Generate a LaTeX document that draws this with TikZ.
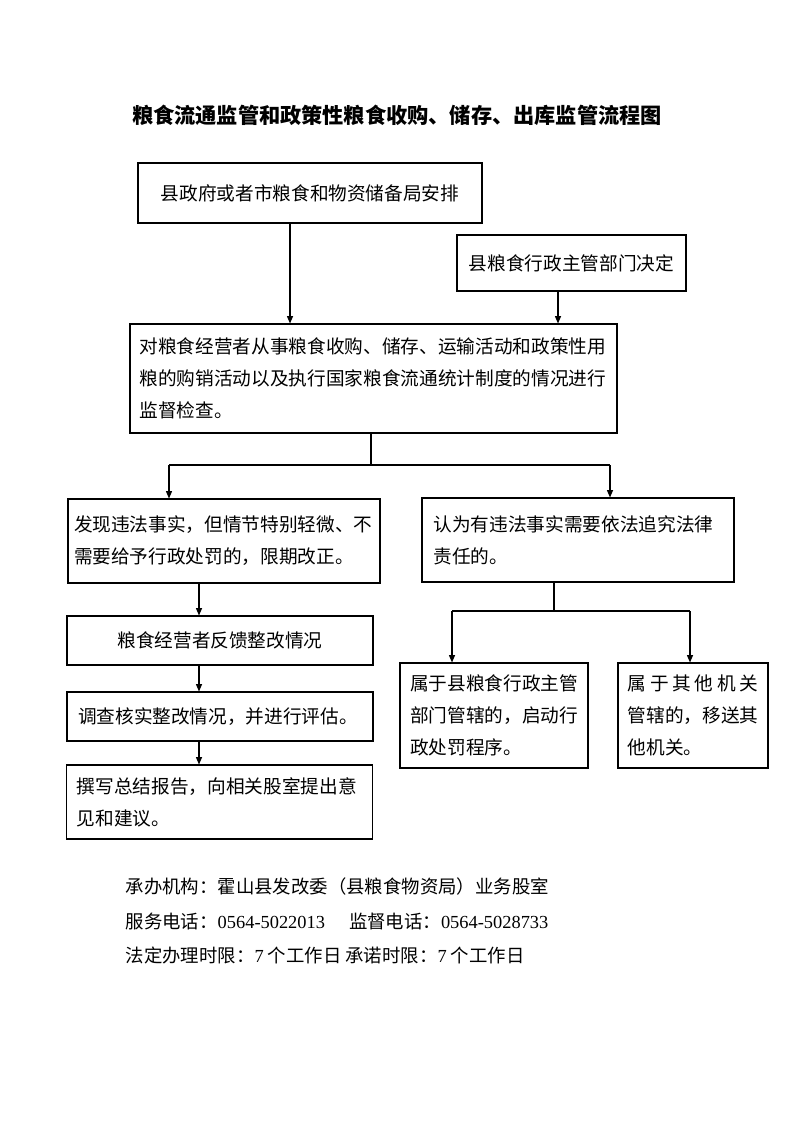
\documentclass[tikz,border=0pt]{standalone}
\usepackage{fontspec}
\setmainfont{Noto Sans CJK SC}
\newfontfamily\dig{Liberation Serif}
\usetikzlibrary{arrows.meta}
\begin{document}
\begin{tikzpicture}[x=0.75pt,y=-0.75pt,
  box/.style={draw,line width=0.8pt,inner sep=0pt,font=\fontsize{14}{24}\selectfont},
  lbox/.style={box,align=left},
  arr/.style={line width=0.8pt,-{Triangle[length=5.5pt,width=4.5pt]}},
  ln/.style={line width=0.8pt},
  foot/.style={anchor=west,font=\fontsize{13.8}{16}\selectfont}]
\useasboundingbox (0,0) rectangle (793,1122);
\node[font=\bfseries\fontsize{15.9}{18}\selectfont] (title) at (397,115) {粮食流通监管和政策性粮食收购、储存、出库监管流程图};
\node[box,minimum width=258pt,minimum height=45pt] (b1) at (310,193) {县政府或者市粮食和物资储备局安排};
\node[box,minimum width=171.75pt,minimum height=42pt] (b2) at (571.5,263) {县粮食行政主管部门决定};
\node[lbox,minimum width=365.25pt,minimum height=81.75pt,text width=351pt] (b3) at (373.5,378.5)
  {对粮食经营者从事粮食收购、储存、运输活动和政策性用\\粮的购销活动以及执行国家粮食流通统计制度的情况进行\\监督检查。};
\node[lbox,minimum width=234pt,minimum height=63pt,text width=225pt] (b4) at (224,541)
  {发现违法事实，但情节特别轻微、不\\需要给予行政处罚的，限期改正。};
\node[lbox,minimum width=234pt,minimum height=63pt,text width=217pt] (b5) at (578,540)
  {认为有违法事实需要依法追究法律\\责任的。};
\node[box,minimum width=229.5pt,minimum height=36.75pt] (b6) at (220,640.5) {粮食经营者反馈整改情况};
\node[lbox,minimum width=229.5pt,minimum height=36.75pt,text width=213pt] (b7) at (220,716.5)
  {调查核实整改情况，并进行评估。};
\node[lbox,minimum width=229.5pt,minimum height=55.5pt,text width=214pt] (b8) at (219.5,802)
  {撰写总结报告，向相关股室提出意\\见和建议。};
\node[lbox,minimum width=141pt,minimum height=78.75pt,text width=126pt] (b9) at (494,715.5)
  {属于县粮食行政主管\\部门管辖的，启动行\\政处罚程序。};
\node[lbox,minimum width=112.5pt,minimum height=78.75pt,text width=98pt] (b10) at (693,715.5)
  {\makebox[98pt][l]{属\hfill 于\hfill 其\hfill 他\hfill 机\hfill 关}\\管辖的，移送其\\他机关。};
% connectors
\coordinate (xa) at (290,0);
\coordinate (xb) at (558,0);
\draw[arr] (xa |- b1.south) -- (xa |- b3.north);
\draw[arr] (xb |- b2.south) -- (xb |- b3.north);
\coordinate (j1) at (371,465);
\coordinate (l1) at (169,465);
\coordinate (r1) at (610,465);
\draw[ln] (j1 |- b3.south) -- (j1);
\draw[ln] (l1) -- (r1);
\draw[arr] (l1) -- (l1 |- b4.north);
\draw[arr] (r1) -- (r1 |- b5.north);
\coordinate (xc) at (199,0);
\draw[arr] (xc |- b4.south) -- (xc |- b6.north);
\draw[arr] (xc |- b6.south) -- (xc |- b7.north);
\draw[arr] (xc |- b7.south) -- (xc |- b8.north);
\coordinate (j2) at (554,611);
\coordinate (l2) at (452,611);
\coordinate (r2) at (690,611);
\draw[ln] (j2 |- b5.south) -- (j2);
\draw[ln] (l2) -- (r2);
\draw[arr] (l2) -- (l2 |- b9.north);
\draw[arr] (r2) -- (r2 |- b10.north);
% footer
\node[foot] (f1) at (121,886) {承办机构：霍山县发改委（县粮食物资局）业务股室};
\node[foot] (f2) at (121,921) {服务电话：{\dig 0564-5022013}\hspace{18pt}监督电话：{\dig 0564-5028733}};
\node[foot] (f3) at (121,955) {法定办理时限：{\dig 7} 个工作日 承诺时限：{\dig 7} 个工作日};
\end{tikzpicture}
\end{document}
